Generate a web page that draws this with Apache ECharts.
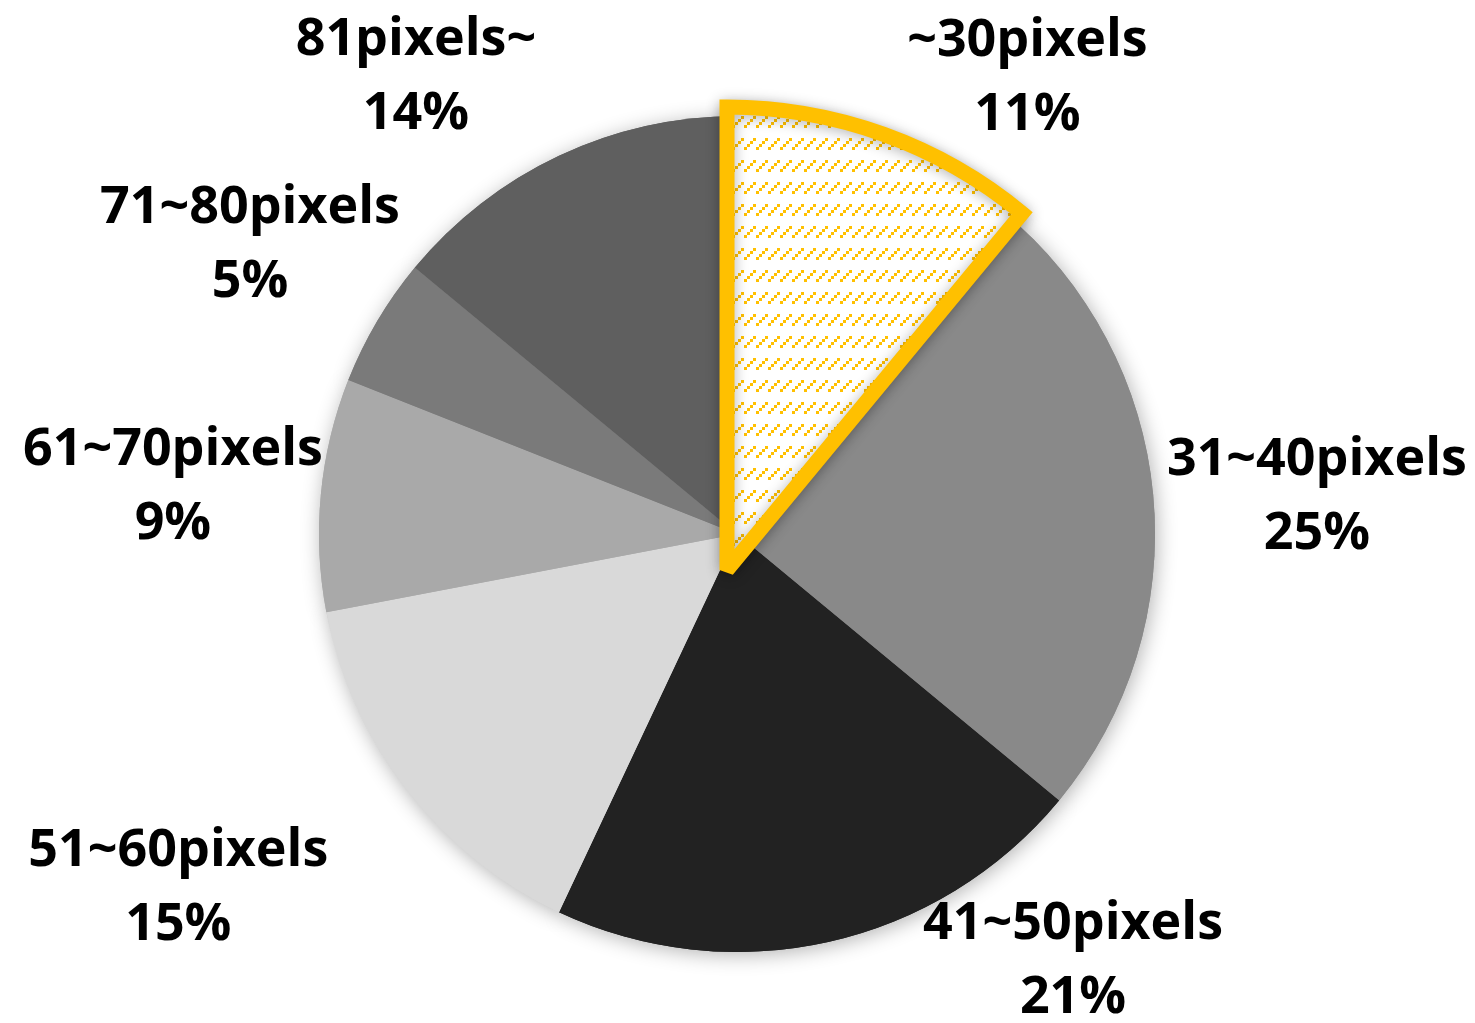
<!DOCTYPE html>
<html>
<head>
<meta charset="utf-8">
<title>Pixel size distribution</title>
<script src="https://cdn.jsdelivr.net/npm/echarts@6/dist/echarts.min.js"></script>
<style>
  html, body { margin: 0; padding: 0; background: #ffffff; }
  #chart { width: 1475px; height: 1023px; }
</style>
</head>
<body>
<div id="chart"></div>
<script>
// Share of objects by size band (percent)
const categories = ['~30pixels', '31~40pixels', '41~50pixels', '51~60pixels', '61~70pixels', '71~80pixels', '81pixels~'];
const shares = [11, 25, 21, 15, 9, 5, 14];
const highlighted = 0; // band picked out with the hatched wedge

// Slice fills, clockwise from the top
const sliceColors = ['#ffffff', '#898989', '#222222', '#d9d9d9', '#a9a9a9', '#7a7a7a', '#5f5f5f'];
// Label placement: [angle from 12 o'clock in degrees, distance as a multiple of the radius]
const labelSpots = [[32.5, 1.293], [86.4, 1.39], [141.8, 1.30], [237.6, 1.583], [274.7, 1.354], [300.7, 1.355], [324.9, 1.336]];

const PIE_CENTER = [737, 534];
const PIE_RADIUS = 418;
const HILITE_CENTER = [727, 570];
const HILITE_RADIUS = 463;
const GOLD = '#FFC000';

// Small repeating tile of yellow dotted diagonal strokes on white
function hatchTile() {
  const c = document.createElement('canvas');
  c.width = 12; c.height = 22;
  const g = c.getContext('2d');
  g.fillStyle = '#ffffff';
  g.fillRect(0, 0, 12, 22);
  g.fillStyle = GOLD;
  const dots = [[0, 9], [3, 6], [6, 3], [9, 0]];
  dots.forEach(([x, y]) => g.fillRect(x, y + 6, 3, 3));
  return c;
}
const hatch = { image: hatchTile(), repeat: 'repeat' };

const total = shares.reduce((a, b) => a + b, 0);

const baseData = categories.map((name, i) => ({
  name: name,
  value: shares[i],
  itemStyle: { color: sliceColors[i] }
}));

const chart = echarts.init(document.getElementById('chart'), null, { renderer: 'canvas' });

chart.setOption({
  backgroundColor: '#ffffff',
  animation: false,
  series: [
    {
      // soft drop shadow under the whole disc
      type: 'pie',
      silent: true,
      z: 1,
      center: PIE_CENTER,
      radius: PIE_RADIUS,
      startAngle: 90,
      clockwise: true,
      label: { show: false },
      labelLine: { show: false },
      itemStyle: {
        shadowBlur: 20,
        shadowColor: 'rgba(0,0,0,0.3)',
        shadowOffsetX: 2,
        shadowOffsetY: 3
      },
      data: baseData
    },
    {
      type: 'pie',
      silent: true,
      z: 2,
      center: PIE_CENTER,
      radius: PIE_RADIUS,
      startAngle: 90,
      clockwise: true,
      label: {
        show: true,
        position: 'outside',
        alignTo: 'none',
        overflow: 'none',
        fontFamily: 'Open Sans',
        fontWeight: 'bold',
        fontSize: 52,
        lineHeight: 74,
        color: '#000000',
        formatter: p => p.name + '\n' + Math.round(p.percent) + '%'
      },
      labelLine: { show: false },
      labelLayout: function (params) {
        const spot = labelSpots[params.dataIndex];
        const a = spot[0] * Math.PI / 180;
        const d = spot[1] * PIE_RADIUS;
        return {
          x: PIE_CENTER[0] + d * Math.sin(a),
          y: PIE_CENTER[1] - d * Math.cos(a),
          align: 'center',
          verticalAlign: 'middle',
          hideOverlap: false
        };
      },
      itemStyle: { borderWidth: 0 },
      data: baseData
    },
    {
      // hatched, gold-outlined wedge for the highlighted band
      type: 'pie',
      silent: true,
      z: 3,
      center: HILITE_CENTER,
      radius: HILITE_RADIUS,
      startAngle: 90,
      clockwise: true,
      label: { show: false },
      labelLine: { show: false },
      data: [
        {
          name: categories[highlighted],
          value: shares[highlighted],
          itemStyle: {
            color: hatch,
            borderColor: GOLD,
            borderWidth: 15,
            borderJoin: 'miter',
            borderMiterLimit: 2,
            shadowBlur: 14,
            shadowColor: 'rgba(0,0,0,0.3)',
            shadowOffsetY: 2
          }
        },
        {
          name: 'rest',
          value: total - shares[highlighted],
          itemStyle: { color: 'rgba(0,0,0,0)', borderWidth: 0 }
        }
      ]
    }
  ]
});
</script>
</body>
</html>
